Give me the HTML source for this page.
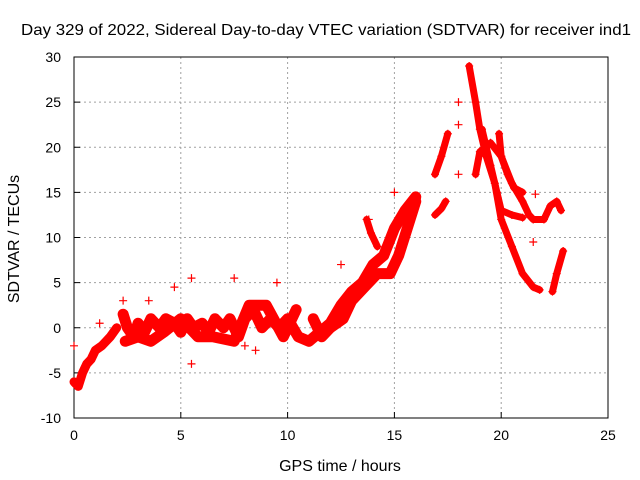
<!DOCTYPE html>
<html><head><meta charset="utf-8"><style>
body{margin:0;background:#fff}
svg{display:block;font-family:"Liberation Sans",sans-serif}
</style></head><body>
<svg id="chart" width="640" height="480">
<rect width="640" height="480" fill="#fff"/>
<text x="326" y="35" font-size="16" text-anchor="middle" textLength="610" lengthAdjust="spacingAndGlyphs">Day 329 of 2022, Sidereal Day-to-day VTEC variation (SDTVAR) for receiver ind1</text>
<g id="grid"></g>
<g id="axes"></g>
<g id="marks"></g>
<text x="340" y="471" font-size="16" text-anchor="middle">GPS time / hours</text>
<text transform="translate(19,239) rotate(-90)" font-size="16" text-anchor="middle">SDTVAR / TECUs</text>
</svg>
<script>
const xTicks=[0,5,10,15,20,25];
const yTicks=[-10,-5,0,5,10,15,20,25,30];
const traceA=[[0,-6],[0.2,-6.5],[0.4,-5],[0.6,-4],[0.8,-3.5],[1,-2.5],[1.3,-2],[1.5,-1.5],[1.7,-1],[2,0]];
const traceB=[[2.3,1.5],[2.5,0],[2.8,-1],[3,0.5],[3.3,-0.5],[3.6,1],[4,0],[4.3,1],[4.7,0.5],[5,-0.5],[5.3,1],[5.6,0],[6,0.5],[6.3,-0.5],[6.6,1],[7,0],[7.3,1],[7.7,-1],[8,1],[8.4,2],[8.8,0],[9.2,1],[9.6,0],[10,1],[10.5,-1],[11,-1.5],[11.5,-0.5],[12,0.5],[12.5,2.5],[13,4],[13.5,5],[14,7],[14.5,8],[15,11],[15.5,13],[16,14.5]];
const traceC=[[11.2,1],[11.6,-1],[12,0],[12.6,1],[13,3],[13.6,4.5],[14.2,6],[14.8,6],[15.2,8],[15.6,11],[16,14]];
const traceB2=[[2.4,-1.5],[3,-1],[3.6,-1.5],[4.2,-0.5],[5,1],[5.8,-1],[6.5,-1],[7.5,-1.5],[8.2,2.5],[9,2.5],[9.8,-1],[10.4,2]];
const traceD=[[13.7,12],[13.9,10.5],[14.2,9]];
const traceE=[[16.9,17],[17.2,19],[17.5,21.5]];
const traceF=[[16.9,12.5],[17.2,13.2],[17.4,14]];
const traceG=[[18.5,29],[18.8,25],[19,22],[19.3,19],[19.7,16],[20,12],[20.5,9],[21,6],[21.5,4.5],[21.8,4.2]];
const traceH=[[18.8,17],[19,19.5],[19.5,20.5],[20,19],[20.5,16],[21,14],[21.3,12.5],[21.5,12],[22,12],[22.3,13.5],[22.6,14],[22.8,13]];
const traceI=[[19.9,21.5],[20,19],[20.3,17],[20.6,15.5],[21,15]];
const traceJ=[[19.1,22],[19.5,18],[19.8,15],[20,13],[20.5,12.5],[21,12.2]];
const traceK=[[22.4,4],[22.6,6],[22.9,8.5]];
const isolated=[[18,25],[18,22.5],[18,17],[21.5,9.5],[21.6,14.8],[0,-2],[5.5,-4],[8,-2],[9.5,5],[7.5,5.5],[4.7,4.5],[5.5,5.5],[3.5,3],[2.3,3],[1.2,0.5],[8.5,-2.5],[12.5,7],[15,15],[13.8,12]];
const traces=[traceA,traceB,traceC,traceB2,traceD,traceE,traceF,traceG,traceH,traceI,traceJ,traceK];

const X0=74,X1=608,Y0=418,Y1=57;
const xs=h=>X0+(h-0)/25*(X1-X0);
const ys=v=>Y0-(v+10)/40*(Y0-Y1);
const NS='http://www.w3.org/2000/svg';
function mk(t,a,p){const e=document.createElementNS(NS,t);for(const k in a)e.setAttribute(k,a[k]);p.appendChild(e);return e;}
const grid=document.getElementById('grid'),axes=document.getElementById('axes'),marks=document.getElementById('marks');
xTicks.forEach(t=>{
 const x=xs(t);
 if(t>0&&t<25){const l=mk('line',{x1:x,x2:x,y1:Y1,y2:Y0,stroke:'#a0a0a0','stroke-dasharray':'2,3'},grid);
 
 }
 const tk=mk('line',{x1:x,x2:x,y1:Y0,y2:Y0-6,stroke:'#000'},axes);
 
 
 const tx=mk('text',{x:x,y:Y0+22,'font-size':14,'text-anchor':'middle'},axes);tx.textContent=t;
 
 
});
yTicks.forEach(t=>{
 const y=ys(t);
 if(t>-10&&t<30){const l=mk('line',{x1:X0,x2:X1,y1:y,y2:y,stroke:'#a0a0a0','stroke-dasharray':'2,3'},grid);
 
 }
 const tk=mk('line',{x1:X0,x2:X0+6,y1:y,y2:y,stroke:'#000'},axes);
 
 
 const tx=mk('text',{x:X0-13,y:y+5,'font-size':14,'text-anchor':'end'},axes);tx.textContent=t;
 
 
});
const fr=mk('rect',{x:X0,y:Y1,width:X1-X0,height:Y0-Y1,fill:'none',stroke:'#000'},axes);


function plus(h,v){
 const x=xs(h),y=ys(v);
 const p=mk('path',{d:`M${x-4},${y}h8M${x},${y-4}v8`,stroke:'#f00','stroke-width':1.2},marks);
 
 
}
traces.forEach((tr,i)=>{
 const w=(i===1||i===2||i===3)?11:(i===0?9:7);
 const pl=mk('polyline',{points:tr.map(p=>xs(p[0])+','+ys(p[1])).join(' '),fill:'none',stroke:'#f00','stroke-width':w,'stroke-linejoin':'round','stroke-linecap':'round'},marks);
 
 
 tr.forEach(p=>plus(p[0],p[1]));
});
isolated.forEach(p=>plus(p[0],p[1]));
</script>
</body></html>
